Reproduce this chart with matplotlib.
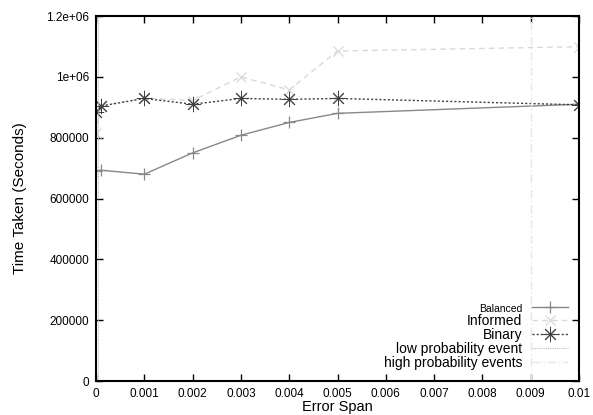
import matplotlib
matplotlib.use("Agg")
import matplotlib.pyplot as plt

plt.rcParams['font.family'] = ['Liberation Sans', 'DejaVu Sans']

x = [0, 0.0001, 0.001, 0.002, 0.003, 0.004, 0.005, 0.01]
balanced = [690000, 693000, 680000, 750000, 808000, 850000, 880000, 910000]
informed = [815000, 905000, 930000, 922000, 1000000, 957000, 1085000, 1099000]
binary = [885000, 904000, 929000, 910000, 929000, 926000, 929000, 908000]
low_prob_x = 0.00005
high_prob_x = 0.009

xticks = [0, 0.001, 0.002, 0.003, 0.004, 0.005, 0.006, 0.007, 0.008, 0.009, 0.01]
xtick_labels = ["0", "0.001", "0.002", "0.003", "0.004", "0.005", "0.006", "0.007", "0.008", "0.009", "0.01"]
yticks = [0, 200000, 400000, 600000, 800000, 1000000, 1200000]
ytick_labels = ["0", "200000", "400000", "600000", "800000", "1e+06", "1.2e+06"]

fig = plt.figure(figsize=(5.93, 4.15), dpi=100)
ax = fig.add_axes([0.1619, 0.0819, 0.8145, 0.8795])

ax.plot(x, balanced, color='#888888', lw=1.0, marker='+', ms=8, mew=0.9, label='Balanced')
ax.plot(x, informed, color='#d9d9d9', lw=1.0, ls=(0, (4, 3)), marker='x', ms=7.5, mew=0.9, label='Informed')
ax.plot(x, binary, color='#404040', lw=1.0, ls=(0, (1.5, 1.5)), marker=(8, 2, 0), ms=11, mew=0.7, label='Binary')
ax.axvline(low_prob_x, color='#bbbbbb', lw=0.8, ls=(0, (1, 1)), label='low probability event')
ax.axvline(high_prob_x, color='#e6e6e6', lw=1.0, ls=(0, (6, 2, 1, 2)), label='high probability events')

ax.set_xlim(0, 0.01)
ax.set_ylim(0, 1200000)
ax.set_xticks(xticks)
ax.set_xticklabels(xtick_labels)
ax.set_yticks(yticks)
ax.set_yticklabels(ytick_labels)
ax.tick_params(direction='in', top=True, right=True, length=5, width=1, labelsize=8.5, pad=5)
for s in ax.spines.values():
    s.set_linewidth(1.5)

ax.set_xlabel('Error Span', fontsize=10.5, labelpad=0)
ax.set_ylabel('Time Taken (Seconds)', fontsize=11, labelpad=14)

leg = ax.legend(loc='lower right', frameon=False, markerfirst=False, fontsize=10,
                handlelength=2.6, handletextpad=0.7, labelspacing=0.0,
                borderaxespad=0.4)
leg.get_texts()[0].set_fontsize(7.5)

fig.savefig('out.png', dpi=100)
